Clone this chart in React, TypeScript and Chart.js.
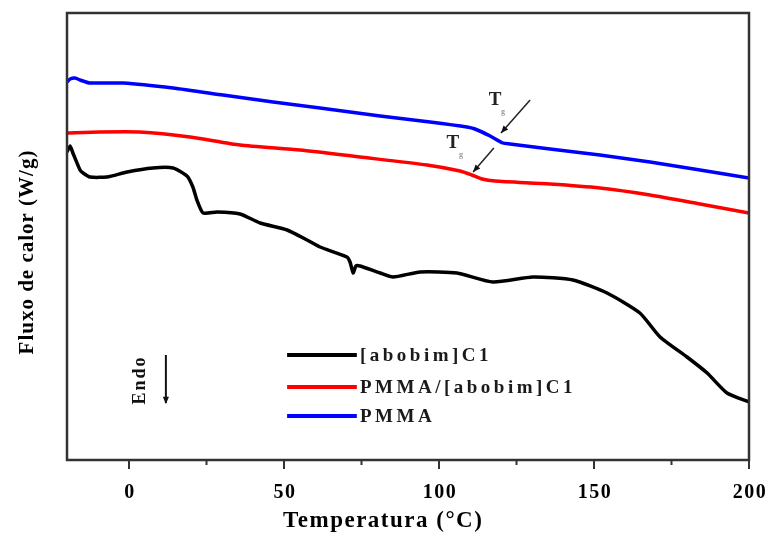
import React, { useEffect, useRef } from 'react';
import { Chart, registerables } from 'chart.js';

Chart.register(...registerables);

// ---- data (temperature in °C, heat flow in arbitrary units) ----
const abobimX = [-20, -19, -18.1, -15.8, -14.8, -12.6, -7.1, -0.6, 7.7, 14.2, 18.7, 20.6, 21.9, 23.9, 28.4, 35.8, 42.3, 51.0, 57.4, 61.6, 70.3, 71.3, 72.3, 73.2, 74.5, 81.0, 85.2, 93.9, 105.8, 117.4, 130.3, 143.2, 154.2, 164.8, 171.3, 180.0, 186.5, 192.9, 200];
const abobimY = [3.14, 3.20, 3.13, 2.96, 2.93, 2.89, 2.89, 2.94, 2.98, 2.98, 2.90, 2.79, 2.66, 2.53, 2.54, 2.52, 2.43, 2.36, 2.26, 2.19, 2.09, 2.04, 1.93, 2.00, 2.00, 1.93, 1.89, 1.94, 1.93, 1.84, 1.89, 1.86, 1.73, 1.53, 1.29, 1.09, 0.93, 0.73, 0.64];

const blendX = [-20, -9.4, 3.5, 19.7, 35.8, 55.2, 74.5, 96.1, 106.8, 110.6, 113.9, 118.1, 135.8, 151.9, 168.1, 184.2, 200];
const blendY = [3.33, 3.34, 3.34, 3.29, 3.21, 3.16, 3.09, 3.01, 2.95, 2.91, 2.87, 2.85, 2.82, 2.78, 2.71, 2.62, 2.53];

const pmmaX = [-20, -19, -17.4, -15.8, -12.6, -1.9, 14.2, 30.3, 46.5, 61.6, 81, 97.1, 109, 111.6, 116.5, 120.6, 122.9, 135.8, 151.9, 168.1, 184.2, 200];
const pmmaY = [3.84, 3.87, 3.88, 3.86, 3.83, 3.83, 3.78, 3.71, 3.64, 3.58, 3.50, 3.44, 3.39, 3.37, 3.30, 3.23, 3.22, 3.17, 3.11, 3.04, 2.96, 2.88];

const seriesNames = ['[abobim]C1', 'PMMA/[abobim]C1', 'PMMA'];
const seriesColors = ['#000000', '#ff0000', '#0000ff'];

const xMin = -20;
const xMax = 200;
const yMin = 0.06;
const yMax = 4.53;
const xTickValues = [0, 25, 50, 75, 100, 125, 150, 175, 200];
const xLabelValues = [0, 50, 100, 150, 200];

const xTitle = 'Temperatura (°C)';
const yTitle = 'Fluxo de calor (W/g)';

// annotations in data units
const tgNotes = [
  { text: 'T', sub: 'g', textX: 118.1, textY: 3.66, fromX: 129.4, fromY: 3.66, toX: 120.0, toY: 3.33 },
  { text: 'T', sub: 'g', textX: 104.5, textY: 3.23, fromX: 117.7, fromY: 3.18, toX: 111.0, toY: 2.94 },
];
const endoNote = { text: 'Endo', textX: 3.5, textY: 0.86, arrowX: 11.9, fromY: 1.11, toY: 0.63 };
const legendPos = { lineX0: 51.0, lineX1: 73.5, textX: 74.5, rowsY: [1.11, 0.79, 0.50] };

const FONT = '"Liberation Serif", "Times New Roman", serif';

function arrowHead(ctx: CanvasRenderingContext2D, x0: number, y0: number, x1: number, y1: number, size: number) {
  const ang = Math.atan2(y1 - y0, x1 - x0);
  ctx.beginPath();
  ctx.moveTo(x1, y1);
  ctx.lineTo(x1 - size * Math.cos(ang - 0.4), y1 - size * Math.sin(ang - 0.4));
  ctx.lineTo(x1 - size * Math.cos(ang + 0.4), y1 - size * Math.sin(ang + 0.4));
  ctx.closePath();
  ctx.fill();
}

const decorPlugin = {
  id: 'decor',
  afterDraw(chart: any) {
    const ctx: CanvasRenderingContext2D = chart.ctx;
    const a = chart.chartArea;
    const xs = chart.scales.x;
    const ys = chart.scales.y;
    ctx.save();
    // frame
    ctx.strokeStyle = '#333';
    ctx.lineWidth = 2.5;
    ctx.strokeRect(a.left, a.top, a.right - a.left, a.bottom - a.top);
    // ticks
    ctx.lineWidth = 2;
    xTickValues.forEach((v) => {
      const px = xs.getPixelForValue(v);
      const len = v % 50 === 0 ? 9 : 5;
      ctx.beginPath();
      ctx.moveTo(px, a.bottom);
      ctx.lineTo(px, a.bottom + len);
      ctx.stroke();
    });
    // tick labels
    ctx.fillStyle = '#000';
    ctx.font = `bold 20px ${FONT}`;
    (ctx as any).letterSpacing = '1.5px';
    ctx.textAlign = 'center';
    ctx.textBaseline = 'middle';
    xLabelValues.forEach((v) => {
      ctx.fillText(String(v), xs.getPixelForValue(v) + 1, a.bottom + 33);
    });
    // x title
    ctx.font = `bold 23px ${FONT}`;
    (ctx as any).letterSpacing = '1.5px';
    ctx.fillText(xTitle, xs.getPixelForValue(82), a.bottom + 61);
    // y title
    ctx.save();
    ctx.translate(a.left - 39, ys.getPixelForValue(2.14));
    ctx.rotate(-Math.PI / 2);
    ctx.font = `bold 21px ${FONT}`;
    (ctx as any).letterSpacing = '1px';
    ctx.fillText(yTitle, 0, 0);
    ctx.restore();

    // legend
    ctx.textAlign = 'left';
    ctx.font = `bold 19px ${FONT}`;
    (ctx as any).letterSpacing = '3.5px';
    seriesNames.forEach((name, i) => {
      const py = ys.getPixelForValue(legendPos.rowsY[i]);
      ctx.strokeStyle = seriesColors[i];
      ctx.lineWidth = 4;
      ctx.beginPath();
      ctx.moveTo(xs.getPixelForValue(legendPos.lineX0), py);
      ctx.lineTo(xs.getPixelForValue(legendPos.lineX1), py);
      ctx.stroke();
      ctx.fillStyle = '#1a1a1a';
      ctx.fillText(name, xs.getPixelForValue(legendPos.textX), py + 1);
    });

    // Tg notes
    (ctx as any).letterSpacing = '0px';
    tgNotes.forEach((n) => {
      const tx = xs.getPixelForValue(n.textX);
      const ty = ys.getPixelForValue(n.textY);
      ctx.fillStyle = '#222';
      ctx.textAlign = 'center';
      ctx.font = `bold 19px ${FONT}`;
      ctx.fillText(n.text, tx, ty);
      ctx.fillStyle = '#999';
      ctx.font = `bold 8px ${FONT}`;
      ctx.fillText(n.sub, tx + 8, ty + 12);
      const x0 = xs.getPixelForValue(n.fromX);
      const y0 = ys.getPixelForValue(n.fromY);
      const x1 = xs.getPixelForValue(n.toX);
      const y1 = ys.getPixelForValue(n.toY);
      ctx.strokeStyle = '#222';
      ctx.fillStyle = '#111';
      ctx.lineWidth = 1.5;
      ctx.beginPath();
      ctx.moveTo(x0, y0);
      ctx.lineTo(x1, y1);
      ctx.stroke();
      arrowHead(ctx, x0, y0, x1, y1, 8);
    });

    // Endo
    ctx.save();
    ctx.translate(xs.getPixelForValue(endoNote.textX), ys.getPixelForValue(endoNote.textY));
    ctx.rotate(-Math.PI / 2);
    ctx.fillStyle = '#111';
    ctx.textAlign = 'center';
    ctx.font = `bold 18px ${FONT}`;
    (ctx as any).letterSpacing = '2px';
    ctx.fillText(endoNote.text, 0, 0);
    ctx.restore();
    {
      const ax = xs.getPixelForValue(endoNote.arrowX);
      const ay0 = ys.getPixelForValue(endoNote.fromY);
      const ay1 = ys.getPixelForValue(endoNote.toY);
      ctx.strokeStyle = '#111';
      ctx.fillStyle = '#111';
      ctx.lineWidth = 2;
      ctx.beginPath();
      ctx.moveTo(ax, ay0);
      ctx.lineTo(ax, ay1);
      ctx.stroke();
      arrowHead(ctx, ax, ay0, ax, ay1 + 1, 8);
    }
    ctx.restore();
  },
};

function toPoints(xs: number[], ys: number[]) {
  return xs.map((x, i) => ({ x, y: ys[i] }));
}

export default function App() {
  const ref = useRef<HTMLCanvasElement | null>(null);
  useEffect(() => {
    document.body.style.margin = '0';
    const canvas = ref.current!;
    const chart = new Chart(canvas, {
      type: 'line',
      data: {
        datasets: [
          { label: seriesNames[0], data: toPoints(abobimX, abobimY), borderColor: seriesColors[0], borderWidth: 3.5, pointRadius: 0, tension: 0.2, fill: false },
          { label: seriesNames[1], data: toPoints(blendX, blendY), borderColor: seriesColors[1], borderWidth: 3.5, pointRadius: 0, tension: 0.2, fill: false },
          { label: seriesNames[2], data: toPoints(pmmaX, pmmaY), borderColor: seriesColors[2], borderWidth: 3.5, pointRadius: 0, tension: 0.2, fill: false },
        ],
      },
      options: {
        animation: false,
        responsive: false,
        layout: { padding: { top: 13, right: 23, left: 0, bottom: 0 } },
        plugins: { legend: { display: false }, tooltip: { enabled: false } },
        scales: {
          x: {
            type: 'linear',
            min: xMin,
            max: xMax,
            grid: { display: false },
            border: { display: false },
            ticks: { display: false },
            afterFit: (s: any) => { s.height = 73; },
          },
          y: {
            type: 'linear',
            min: yMin,
            max: yMax,
            grid: { display: false },
            border: { display: false },
            ticks: { display: false },
            afterFit: (s: any) => { s.width = 67; },
          },
        },
      },
      plugins: [decorPlugin],
    } as any);
    return () => chart.destroy();
  }, []);
  return (
    <div style={{ width: 772, height: 533, background: '#fff' }}>
      <canvas ref={ref} width={772} height={533} style={{ display: 'block' }} />
    </div>
  );
}
